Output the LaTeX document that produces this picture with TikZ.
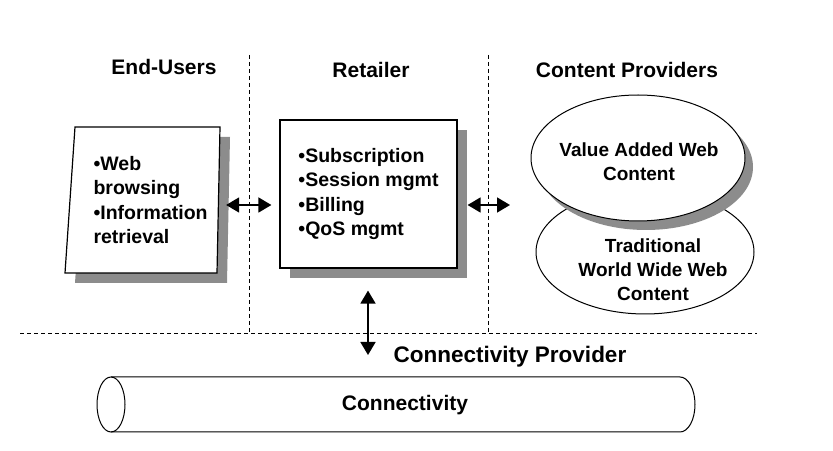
\documentclass[tikz,border=0pt]{standalone}
\usepackage{fontspec}
\setmainfont{Liberation Sans}
\usepackage{tikz}
\usetikzlibrary{arrows.meta,shadows,shapes.geometric}

\begin{document}
\begin{tikzpicture}[x=1pt,y=1pt,
	head/.style={font=\fontsize{21}{24}\selectfont\bfseries},
	item/.style={font=\fontsize{19.5}{24.5}\selectfont\bfseries,align=left},
	ctext/.style={font=\fontsize{19}{24}\selectfont\bfseries,align=center},
	shade/.style={drop shadow={shadow xshift=10pt,shadow yshift=-10pt,fill=black!45,opacity=1}},
	bar/.style={line width=0.7pt,dash pattern=on 4pt off 3pt},
	dbl/.style={{Triangle[length=13pt,width=15pt]}-{Triangle[length=13pt,width=15pt]},line width=1.6pt}]
\useasboundingbox (0,0) rectangle (833,450);
	% section lines
	\draw [bar] (249,395) -- (249,118);
	\draw [bar] (488,395) -- (488,118);
	\draw [bar] (20,117) -- (757,117);
	\node [head] at (164,383) (eu) {End-Users};
	\node [head] at (371,380) (rt) {Retailer};
	\node [head] at (627,380) (cpv) {Content Providers};
	% end-user box
	\draw [shade,fill=white,line width=1.2pt] (75,323) -- (220,323) -- (217,177) -- (65,177) -- cycle;
	\node [item,anchor=west] at (90,250) (users) {•Web\\browsing\\•Information\\retrieval};
	% retailer box
	\node [item,shade,draw,fill=white,line width=1.2pt,minimum width=177pt,minimum height=148pt] at (368.5,256) (retail) {•Subscription\\•Session mgmt\\•Billing\\•QoS mgmt};
	% content
	\node [ellipse,draw,fill=white,line width=1pt,minimum width=218pt,minimum height=124pt] at (645,198) (www) {};
	\node [ellipse,draw,fill=white,line width=1pt,minimum width=214pt,minimum height=126pt,drop shadow={shadow xshift=8pt,shadow yshift=-9pt,fill=black!45,opacity=1}] at (638,292) (vaw) {};
	\node [ctext] at (639,288) (vawt) {Value Added Web\\Content};
	\node [ctext] at (653,180) (wwwt) {Traditional\\World Wide Web\\Content};
	% connectivity
	\draw [line width=1pt] (111,73) -- (680,73) arc [start angle=90,end angle=-90,x radius=15,y radius=27.5] -- (111,18);
	\draw [line width=1pt] (111,45.5) ellipse [x radius=14,y radius=27.5];
	\node [head] at (405,45) (conn) {Connectivity};
	\node [head,font=\fontsize{22.5}{26}\selectfont\bfseries] at (510,93) (cprov) {Connectivity Provider};
	\coordinate (toc) at (510,245);
	\coordinate (down) at (368,95);
	\draw [dbl] ([xshift=15pt,yshift=-5pt]users.east) -- ([xshift=-8pt,yshift=-11pt]retail.west);
	\draw [dbl] ([xshift=10pt,yshift=-11pt]retail.east) -- (toc);
	\draw [dbl] ([xshift=-0.5pt,yshift=-22pt]retail.south) -- (down);
\end{tikzpicture}
\end{document}
